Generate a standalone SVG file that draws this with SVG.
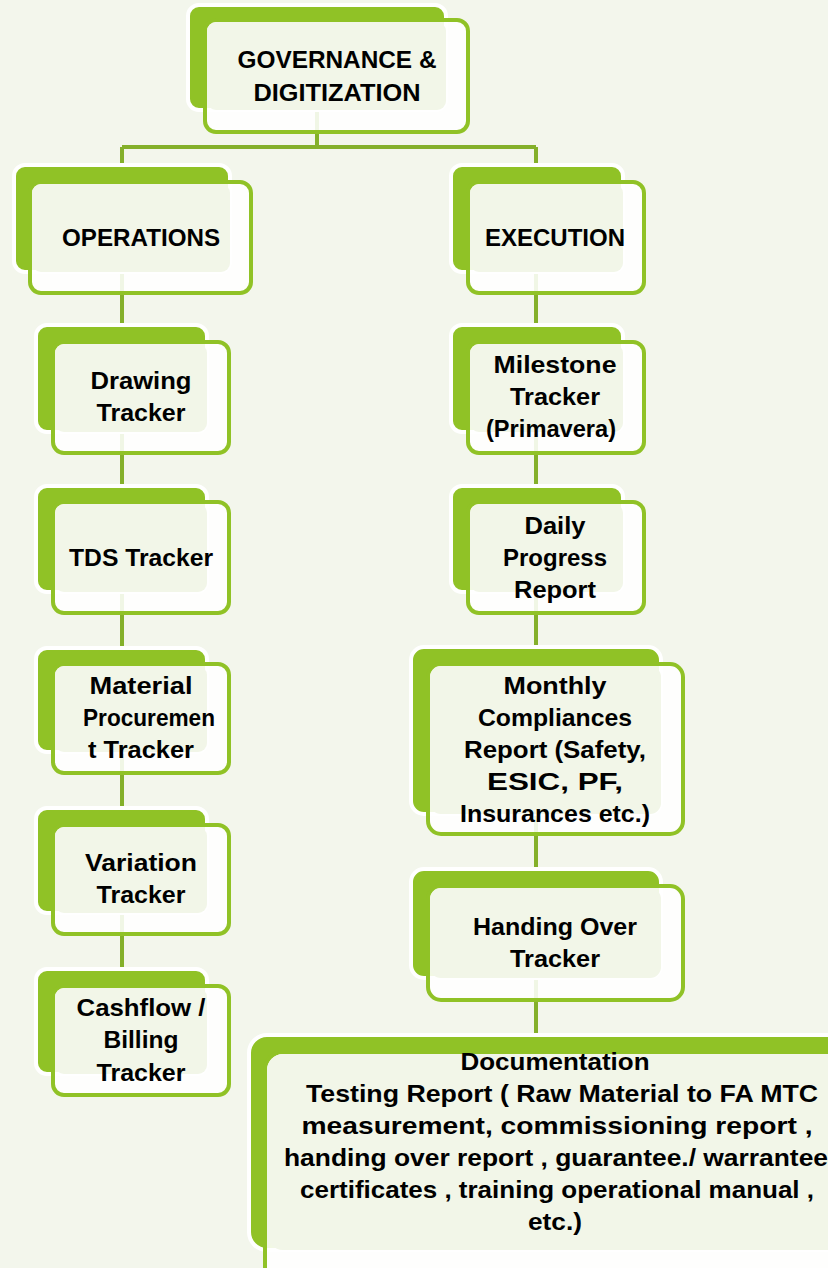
<svg xmlns="http://www.w3.org/2000/svg" width="828" height="1268" viewBox="0 0 828 1268">
<style>
.bg{fill:#f3f6ec}
.back{fill:#90c226;stroke:#ffffff;stroke-width:4}
.front{fill:#ffffff;fill-opacity:0.88;stroke:#90c226;stroke-width:4}
.inner{fill:#f2f6e8}
.conn{stroke:#84b02a;stroke-width:4;fill:none}
text{font-family:"Liberation Sans",Arial,sans-serif;font-weight:bold;font-size:24px;fill:#000;text-anchor:middle}
</style>
<rect class="bg" x="0" y="0" width="828" height="1268"/>
<g id="connectors">
<path class="conn" d="M317,110 V147 M122,147 H536 M122,147 V969 M536,147 V1035"/>
</g>
<g id="governance">
<rect class="back" x="188" y="5" width="258" height="105" rx="11"/>
<rect class="front" x="205" y="20" width="263" height="112" rx="11"/>
<rect class="inner" x="207" y="22" width="239" height="88" rx="9"/>
<text x="337" y="68" textLength="199" lengthAdjust="spacingAndGlyphs">GOVERNANCE &amp;</text>
<text x="337" y="101" textLength="167" lengthAdjust="spacingAndGlyphs">DIGITIZATION</text>
</g>
<g id="operations">
<rect class="back" x="14" y="165" width="216" height="107" rx="11"/>
<rect class="front" x="30" y="182" width="221" height="111" rx="11"/>
<rect class="inner" x="32" y="184" width="198" height="88" rx="9"/>
<text x="141" y="246" textLength="158" lengthAdjust="spacingAndGlyphs">OPERATIONS</text>
</g>
<g id="execution">
<rect class="back" x="451" y="165" width="172" height="107" rx="11"/>
<rect class="front" x="468" y="182" width="176" height="111" rx="11"/>
<rect class="inner" x="470" y="184" width="153" height="88" rx="9"/>
<text x="555" y="246" textLength="140" lengthAdjust="spacingAndGlyphs">EXECUTION</text>
</g>
<g id="drawing">
<rect class="back" x="36" y="325" width="171" height="107" rx="11"/>
<rect class="front" x="53" y="342" width="176" height="111" rx="11"/>
<rect class="inner" x="55" y="344" width="152" height="88" rx="9"/>
<text x="141" y="389" textLength="101" lengthAdjust="spacingAndGlyphs">Drawing</text>
<text x="141" y="421" textLength="89" lengthAdjust="spacingAndGlyphs">Tracker</text>
</g>
<g id="tds">
<rect class="back" x="36" y="486" width="171" height="106" rx="11"/>
<rect class="front" x="53" y="502" width="176" height="111" rx="11"/>
<rect class="inner" x="55" y="504" width="152" height="88" rx="9"/>
<text x="141" y="566" textLength="144" lengthAdjust="spacingAndGlyphs">TDS Tracker</text>
</g>
<g id="material">
<rect class="back" x="36" y="648" width="171" height="104" rx="11"/>
<rect class="front" x="53" y="664" width="176" height="109" rx="11"/>
<rect class="inner" x="55" y="666" width="152" height="86" rx="9"/>
<text x="141" y="694" textLength="103" lengthAdjust="spacingAndGlyphs">Material</text>
<text x="149" y="726" textLength="132" lengthAdjust="spacingAndGlyphs">Procuremen</text>
<text x="141" y="758" textLength="106" lengthAdjust="spacingAndGlyphs">t Tracker</text>
</g>
<g id="variation">
<rect class="back" x="36" y="808" width="171" height="105" rx="11"/>
<rect class="front" x="53" y="825" width="176" height="109" rx="11"/>
<rect class="inner" x="55" y="827" width="152" height="86" rx="9"/>
<text x="141" y="871" textLength="112" lengthAdjust="spacingAndGlyphs">Variation</text>
<text x="141" y="903" textLength="89" lengthAdjust="spacingAndGlyphs">Tracker</text>
</g>
<g id="cashflow">
<rect class="back" x="36" y="969" width="171" height="105" rx="11"/>
<rect class="front" x="53" y="986" width="176" height="109" rx="11"/>
<rect class="inner" x="55" y="988" width="152" height="86" rx="9"/>
<text x="141" y="1016" textLength="129" lengthAdjust="spacingAndGlyphs">Cashflow /</text>
<text x="141" y="1048" textLength="75" lengthAdjust="spacingAndGlyphs">Billing</text>
<text x="141" y="1081" textLength="89" lengthAdjust="spacingAndGlyphs">Tracker</text>
</g>
<g id="milestone">
<rect class="back" x="451" y="325" width="172" height="107" rx="11"/>
<rect class="front" x="468" y="342" width="176" height="111" rx="11"/>
<rect class="inner" x="470" y="344" width="153" height="88" rx="9"/>
<text x="555" y="373" textLength="123" lengthAdjust="spacingAndGlyphs">Milestone</text>
<text x="555" y="405" textLength="90" lengthAdjust="spacingAndGlyphs">Tracker</text>
<text x="551" y="437" textLength="130" lengthAdjust="spacingAndGlyphs">(Primavera)</text>
</g>
<g id="daily">
<rect class="back" x="451" y="486" width="172" height="106" rx="11"/>
<rect class="front" x="468" y="502" width="176" height="111" rx="11"/>
<rect class="inner" x="470" y="504" width="153" height="88" rx="9"/>
<text x="555" y="534" textLength="61" lengthAdjust="spacingAndGlyphs">Daily</text>
<text x="555" y="566" textLength="104" lengthAdjust="spacingAndGlyphs">Progress</text>
<text x="555" y="598" textLength="82" lengthAdjust="spacingAndGlyphs">Report</text>
</g>
<g id="monthly">
<rect class="back" x="411" y="647" width="250" height="167" rx="13"/>
<rect class="front" x="428" y="664" width="255" height="170" rx="13"/>
<rect class="inner" x="430" y="666" width="231" height="148" rx="11"/>
<text x="555" y="694" textLength="103" lengthAdjust="spacingAndGlyphs">Monthly</text>
<text x="555" y="726" textLength="154" lengthAdjust="spacingAndGlyphs">Compliances</text>
<text x="555" y="758" textLength="182" lengthAdjust="spacingAndGlyphs">Report (Safety,</text>
<text x="555" y="790" textLength="136" lengthAdjust="spacingAndGlyphs">ESIC, PF,</text>
<text x="555" y="822" textLength="190" lengthAdjust="spacingAndGlyphs">Insurances etc.)</text>
</g>
<g id="handing">
<rect class="back" x="411" y="869" width="250" height="109" rx="13"/>
<rect class="front" x="428" y="886" width="255" height="114" rx="13"/>
<rect class="inner" x="430" y="888" width="231" height="90" rx="11"/>
<text x="555" y="935" textLength="164" lengthAdjust="spacingAndGlyphs">Handing Over</text>
<text x="555" y="967" textLength="90" lengthAdjust="spacingAndGlyphs">Tracker</text>
</g>
<g id="documentation">
<rect class="back" x="249" y="1035" width="600" height="215" rx="18"/>
<rect class="front" x="265" y="1052" width="600" height="240" rx="18"/>
<rect class="inner" x="267" y="1054" width="580" height="196" rx="16"/>
<text x="555" y="1070" textLength="189" lengthAdjust="spacingAndGlyphs">Documentation</text>
<text x="562" y="1102" textLength="512" lengthAdjust="spacingAndGlyphs">Testing Report ( Raw Material to FA MTC</text>
<text x="557" y="1134" textLength="511" lengthAdjust="spacingAndGlyphs">measurement, commissioning report ,</text>
<text x="556" y="1166" textLength="544" lengthAdjust="spacingAndGlyphs">handing over report , guarantee./ warrantee</text>
<text x="557" y="1198" textLength="514" lengthAdjust="spacingAndGlyphs">certificates , training operational manual ,</text>
<text x="555" y="1230" textLength="54" lengthAdjust="spacingAndGlyphs">etc.)</text>
</g>
</svg>
